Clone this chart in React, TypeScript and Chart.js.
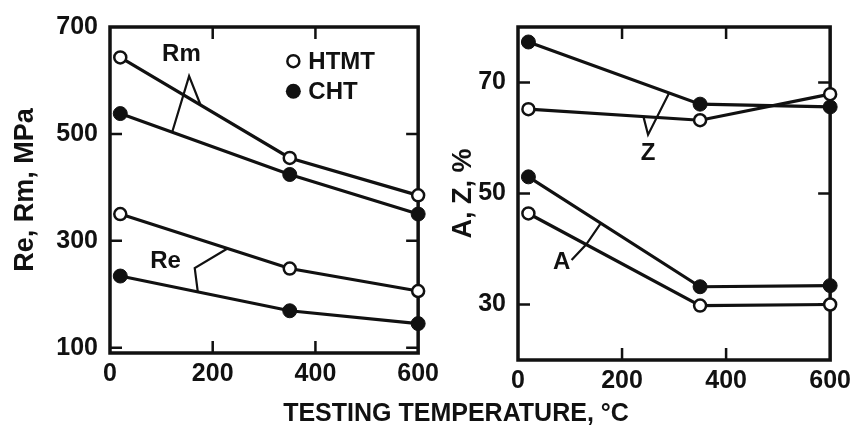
import React, { useEffect, useRef } from "react";
import { Chart, registerables } from "chart.js";

Chart.register(...registerables);

// ---- data ----
const temperatures = [20, 350, 600];
const rmHTMT = [643, 455, 385];
const rmCHT = [538, 424, 350];
const reHTMT = [350, 248, 206];
const reCHT = [234, 169, 145];
const zHTMT = [65.2, 63.2, 67.9];
const zCHT = [77.3, 66.1, 65.6];
const aHTMT = [46.4, 29.8, 30.0];
const aCHT = [53.0, 33.2, 33.4];

const xTicks = [0, 200, 400, 600];
const yTicksLeft = [100, 300, 500, 700];
const yTicksRight = [30, 50, 70];

const legendLabels = ["HTMT", "CHT"];
const xTitle = "TESTING TEMPERATURE, °C";
const yTitleLeft = "Re, Rm, MPa";
const yTitleRight = "A, Z, %";

// annotation labels and leader lines (data coordinates)
const leftNotes = [
  { text: "Rm", at: [139, 648], leader: [[121, 503], [154, 608], [176, 555]] },
  { text: "Re", at: [108, 261], leader: [[228, 285], [165, 249], [171, 204]] },
];
const rightNotes = [
  { text: "Z", at: [250, 57.2], leader: [[241, 63.9], [250, 60.6], [290, 68.0]] },
  { text: "A", at: [84, 37.6], leader: [[103, 38.0], [131, 40.8], [159, 44.6]] },
];
const legendAnchor = [357, 636];

const FONT = "'Liberation Sans', Arial, sans-serif";
const INK = "#111";

function series(vals: number[]) {
  return temperatures.map((t, i) => ({ x: t, y: vals[i] }));
}

function ds(label: string, vals: number[], open: boolean) {
  return {
    label,
    data: series(vals),
    borderColor: INK,
    borderWidth: 3.2,
    tension: 0,
    pointRadius: open ? 6 : 7,
    pointBackgroundColor: open ? "#fff" : INK,
    pointBorderColor: INK,
    pointBorderWidth: open ? 2.5 : 1,
    clip: false as any,
  };
}

function decorPlugin(notes: any[], withLegend: boolean) {
  return {
    id: "decor",
    beforeDatasetsDraw(chart: any) {
      const { ctx, chartArea: a, scales } = chart;
      const xs = scales.x;
      const ys = scales.y;
      ctx.save();
      ctx.strokeStyle = INK;
      ctx.lineWidth = 2.5;
      const tl = 12;
      ctx.beginPath();
      xs.ticks.forEach((t: any) => {
        if (t.value <= xs.min || t.value >= xs.max) return;
        const px = xs.getPixelForValue(t.value);
        ctx.moveTo(px, a.top);
        ctx.lineTo(px, a.top + tl);
        ctx.moveTo(px, a.bottom);
        ctx.lineTo(px, a.bottom - tl);
      });
      ys.ticks.forEach((t: any) => {
        if (t.value <= ys.min || t.value >= ys.max) return;
        const py = ys.getPixelForValue(t.value);
        ctx.moveTo(a.left, py);
        ctx.lineTo(a.left + tl, py);
        ctx.moveTo(a.right, py);
        ctx.lineTo(a.right - tl, py);
      });
      ctx.stroke();
      ctx.lineWidth = 3.5;
      ctx.strokeRect(a.left, a.top, a.right - a.left, a.bottom - a.top);
      ctx.restore();
    },
    afterDatasetsDraw(chart: any) {
      const { ctx, scales } = chart;
      const xs = scales.x;
      const ys = scales.y;
      const P = (p: number[]) => [xs.getPixelForValue(p[0]), ys.getPixelForValue(p[1])];
      ctx.save();
      ctx.strokeStyle = INK;
      ctx.fillStyle = INK;
      ctx.lineWidth = 2.2;
      ctx.font = `bold 24px ${FONT}`;
      ctx.textAlign = "center";
      ctx.textBaseline = "middle";
      notes.forEach((n) => {
        ctx.beginPath();
        n.leader.forEach((p: number[], i: number) => {
          const [x, y] = P(p);
          if (i === 0) ctx.moveTo(x, y);
          else ctx.lineTo(x, y);
        });
        ctx.stroke();
        const [lx, ly] = P(n.at);
        ctx.fillText(n.text, lx, ly);
      });
      if (withLegend) {
        const [cx, cy] = P(legendAnchor);
        legendLabels.forEach((lab, i) => {
          const y = cy + i * 30;
          ctx.beginPath();
          ctx.arc(cx, y, i === 0 ? 6 : 7.5, 0, Math.PI * 2);
          if (i === 0) {
            ctx.fillStyle = "#fff";
            ctx.fill();
            ctx.lineWidth = 2.5;
            ctx.stroke();
          } else {
            ctx.fillStyle = INK;
            ctx.fill();
          }
          ctx.fillStyle = INK;
          ctx.textAlign = "left";
          ctx.fillText(lab, cx + 15, y + 1);
        });
      }
      ctx.restore();
    },
  };
}

function makeOptions(
  yMin: number,
  yMax: number,
  yTicks: number[],
  yTitle: string,
  yWidth: number,
  xHeight: number,
  padTop: number,
  padRight: number,
  titlePad: number
) {
  return {
    responsive: false,
    animation: false as const,
    layout: { padding: { top: padTop, right: padRight, left: 0, bottom: 0 } },
    plugins: {
      legend: { display: false },
      tooltip: { enabled: false },
    },
    scales: {
      x: {
        type: "linear" as const,
        min: 0,
        max: 600,
        afterBuildTicks: (s: any) => {
          s.ticks = xTicks.map((v) => ({ value: v }));
        },
        afterFit: (s: any) => {
          s.height = xHeight;
        },
        grid: { display: false, drawTicks: false },
        border: { display: false },
        ticks: {
          color: INK,
          padding: 6,
          maxRotation: 0,
          font: { family: FONT, size: 25, weight: "bold" as const },
        },
      },
      y: {
        type: "linear" as const,
        min: yMin,
        max: yMax,
        afterBuildTicks: (s: any) => {
          s.ticks = yTicks.map((v) => ({ value: v }));
        },
        afterFit: (s: any) => {
          s.width = yWidth;
        },
        grid: { display: false, drawTicks: false },
        border: { display: false },
        ticks: {
          color: INK,
          padding: 12,
          font: { family: FONT, size: 25, weight: "bold" as const },
        },
        title: {
          display: true,
          text: yTitle,
          color: INK,
          padding: { top: titlePad, bottom: 0 },
          font: { family: FONT, size: 27, weight: "bold" as const },
        },
      },
    },
  };
}

export default function App() {
  const leftRef = useRef<HTMLCanvasElement | null>(null);
  const rightRef = useRef<HTMLCanvasElement | null>(null);

  useEffect(() => {
    const left = new Chart(leftRef.current as HTMLCanvasElement, {
      type: "line",
      data: {
        datasets: [
          ds("Rm HTMT", rmHTMT, true),
          ds("Rm CHT", rmCHT, false),
          ds("Re HTMT", reHTMT, true),
          ds("Re CHT", reCHT, false),
        ],
      },
      options: makeOptions(90, 700, yTicksLeft, yTitleLeft, 110, 76, 22, 11, 9) as any,
      plugins: [decorPlugin(leftNotes, true)],
    });
    const right = new Chart(rightRef.current as HTMLCanvasElement, {
      type: "line",
      data: {
        datasets: [
          ds("Z HTMT", zHTMT, true),
          ds("Z CHT", zCHT, false),
          ds("A HTMT", aHTMT, true),
          ds("A CHT", aCHT, false),
        ],
      },
      options: makeOptions(20, 80, yTicksRight, yTitleRight, 78, 69, 24, 18, 7) as any,
      plugins: [decorPlugin(rightNotes, false)],
    });
    return () => {
      left.destroy();
      right.destroy();
    };
  }, []);

  return (
    <div
      style={{
        position: "fixed",
        left: 0,
        top: 0,
        width: 857,
        height: 429,
        background: "#fff",
        overflow: "hidden",
      }}
    >
      <canvas
        ref={leftRef}
        width={445}
        height={429}
        style={{ position: "absolute", left: 0, top: 0, width: 445, height: 429 }}
      />
      <canvas
        ref={rightRef}
        width={417}
        height={429}
        style={{ position: "absolute", left: 440, top: 0, width: 417, height: 429 }}
      />
      <div
        style={{
          position: "absolute",
          left: 156,
          width: 600,
          top: 398,
          lineHeight: "30px",
          textAlign: "center",
          font: `bold 25px ${FONT}`,
          color: INK,
        }}
      >
        {xTitle}
      </div>
    </div>
  );
}
